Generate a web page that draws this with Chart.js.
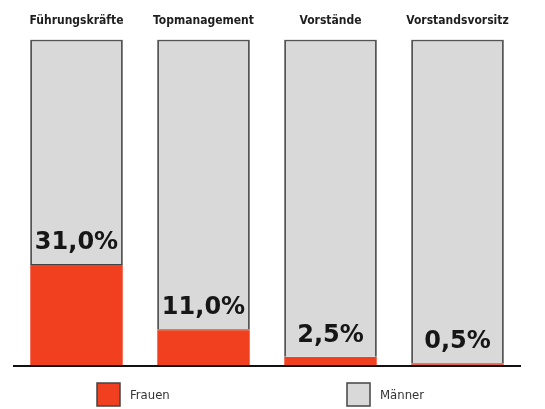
<!DOCTYPE html>
<html>
<head>
<meta charset="utf-8">
<script src="https://cdn.jsdelivr.net/npm/chart.js@4"></script>
<style>
  html, body { margin: 0; padding: 0; background: #fff; }
  #wrap { width: 545px; height: 409px; }
</style>
</head>
<body>
<div id="wrap"><canvas id="chart" width="545" height="409"></canvas></div>
<script>
// Anteil Frauen / Männer in Führungspositionen
const categories = ['Führungskräfte', 'Topmanagement', 'Vorstände', 'Vorstandsvorsitz'];
const frauen = [31.0, 11.0, 2.5, 0.5];
const maenner = [69.0, 89.0, 97.5, 99.5];
const seriesNames = ['Frauen', 'Männer'];

const narrow = '"Liberation Sans Narrow", "DejaVu Sans Condensed", sans-serif';

// value labels above the red part
const valueLabels = {
  id: 'valueLabels',
  afterDatasetsDraw(chart) {
    const ctx = chart.ctx;
    const meta = chart.getDatasetMeta(0);
    ctx.save();
    ctx.font = 'bold 24px "DejaVu Sans", sans-serif';
    ctx.fillStyle = '#161616';
    ctx.textAlign = 'center';
    ctx.textBaseline = 'alphabetic';
    meta.data.forEach((bar, i) => {
      const txt = frauen[i].toFixed(1).replace('.', ',') + '%';
      ctx.fillText(txt, bar.x, bar.y - 15);
    });
    // baseline
    const area = chart.chartArea;
    ctx.strokeStyle = '#111';
    ctx.lineWidth = 2;
    ctx.beginPath();
    ctx.moveTo(area.left, area.bottom + 1);
    ctx.lineTo(area.right, area.bottom + 1);
    ctx.stroke();
    ctx.restore();
  }
};

// legend drawn below, items far apart like the original
const wideLegend = {
  id: 'wideLegend',
  afterDraw(chart) {
    const ctx = chart.ctx;
    const startX = [97, 347];
    const top = 383, size = 23;
    ctx.save();
    ctx.font = '13px ' + narrow;
    ctx.textBaseline = 'middle';
    ctx.textAlign = 'left';
    chart.data.datasets.forEach((ds, i) => {
      ctx.fillStyle = ds.backgroundColor;
      ctx.fillRect(startX[i], top, size, size);
      ctx.strokeStyle = '#444';
      ctx.lineWidth = 1.5;
      ctx.strokeRect(startX[i], top, size, size);
      ctx.fillStyle = '#333';
      ctx.fillText(ds.label, startX[i] + size + 10, top + size / 2 + 1);
    });
    ctx.restore();
  }
};

new Chart(document.getElementById('chart'), {
  type: 'bar',
  data: {
    labels: categories,
    datasets: [
      {
        label: seriesNames[0],
        data: frauen,
        backgroundColor: '#f1401f',
        borderColor: '#444',
        borderWidth: { top: 1, left: 0, right: 0, bottom: 0 },
        borderSkipped: false
      },
      {
        label: seriesNames[1],
        data: maenner,
        backgroundColor: '#d9d9d9',
        borderColor: '#555',
        borderWidth: { top: 2, left: 2, right: 2, bottom: 0 },
        borderSkipped: false
      }
    ]
  },
  options: {
    responsive: false,
    animation: false,
    layout: { padding: { left: 13, right: 24, top: 3, bottom: 44 } },
    datasets: { bar: { categoryPercentage: 1, barPercentage: 0.73 } },
    plugins: {
      legend: { display: false },
      tooltip: { enabled: false }
    },
    scales: {
      x: {
        position: 'top',
        stacked: true,
        grid: { display: false, drawTicks: false },
        border: { display: false },
        ticks: { color: '#1e1e1e', padding: 11, font: { family: narrow, size: 12, weight: 'bold' } }
      },
      y: {
        stacked: true,
        display: false,
        min: 0,
        max: 100
      }
    }
  },
  plugins: [valueLabels, wideLegend]
});
</script>
</body>
</html>
